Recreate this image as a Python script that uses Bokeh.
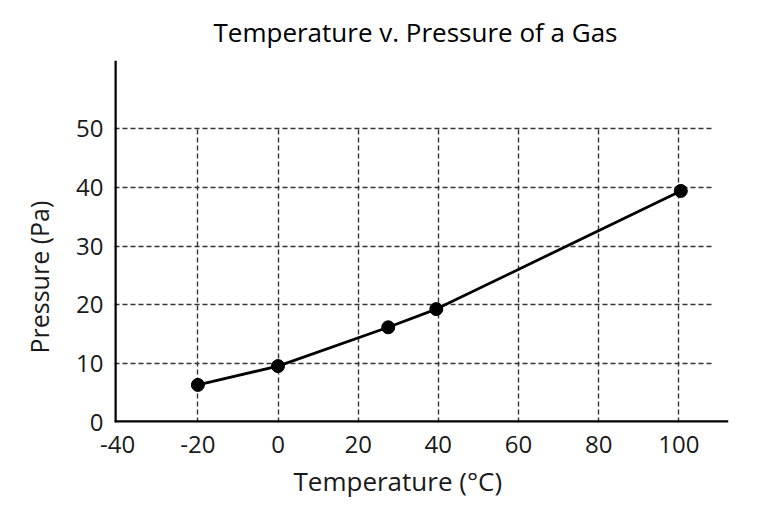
from bokeh.plotting import figure
from bokeh.models import FixedTicker, Span, Range1d, Title
from bokeh.embed import file_html
from bokeh.resources import INLINE

# Data
temperature = [-20, 0, 27.5, 39.5, 100.5]
pressure = [6.4, 9.6, 16.2, 19.3, 39.4]

x_ticks = [-40, -20, 0, 20, 40, 60, 80, 100]
y_ticks = [0, 10, 20, 30, 40, 50]
x_grid_ticks = [-20, 0, 20, 40, 60, 80, 100]
y_grid_ticks = [10, 20, 30, 40, 50]

title_text = "Temperature v. Pressure of a Gas"
x_label = "Temperature (\u00b0C)"
y_label = "Pressure (Pa)"

FONT = "Open Sans"
X_START, X_END = -40.8, 112.4
Y_START, Y_END = 0, 61.6

p = figure(width=750, height=515, output_backend="svg", toolbar_location=None,
           x_range=Range1d(X_START, X_END), y_range=Range1d(Y_START, Y_END),
           min_border_left=114, min_border_right=22, min_border_top=60,
           min_border_bottom=93)
p.outline_line_color = None
p.background_fill_color = "white"
p.border_fill_color = "white"

p.title.text = title_text
p.title.text_font = FONT
p.title.text_font_size = "26px"
p.title.text_font_style = "normal"
p.title.text_color = "black"
p.title.align = "left"
p.title.offset = 99
p.title.standoff = 22

for ax, ticks in ((p.xaxis[0], x_ticks), (p.yaxis[0], y_ticks)):
    ax.ticker = FixedTicker(ticks=ticks)
    ax.major_label_overrides = {t: str(t) for t in ticks}
    ax.axis_line_color = None
    ax.major_tick_line_color = None
    ax.minor_tick_line_color = None
    ax.major_tick_out = 0
    ax.major_tick_in = 0
    ax.minor_tick_out = 0
    ax.major_label_text_font = FONT
    ax.major_label_text_font_size = "24px"
    ax.major_label_text_color = "#1a1a1a"

p.xaxis[0].major_label_standoff = 13
p.yaxis[0].major_label_standoff = 11

# axis titles, placed over the labelled tick span as in the reference
xt = Title(text=x_label, align="left", offset=179, standoff=10,
           text_font=FONT, text_font_size="26px", text_font_style="normal",
           text_color="#1a1a1a")
yt = Title(text=y_label, align="left", offset=69, standoff=35,
           text_font=FONT, text_font_size="25px", text_font_style="normal",
           text_color="#1a1a1a")
p.add_layout(xt, "below")
p.add_layout(yt, "left")

p.xgrid.ticker = FixedTicker(ticks=x_grid_ticks)
p.ygrid.ticker = FixedTicker(ticks=y_grid_ticks)
for g in (p.xgrid[0], p.ygrid[0]):
    g.grid_line_color = "#333333"
    g.grid_line_width = 1.4
    g.grid_line_dash = "5 3"
try:
    p.xgrid[0].cross_bounds = (0, 50)
    p.ygrid[0].cross_bounds = (X_START, 108.6)
except Exception:
    pass

# axis lines across the full frame
p.add_layout(Span(location=X_START, dimension="height", line_color="black", line_width=4.5))
p.add_layout(Span(location=Y_START, dimension="width", line_color="black", line_width=4.5))

p.line(temperature, pressure, line_color="black", line_width=2.8)
p.scatter(temperature, pressure, size=13, fill_color="black", line_color="black")

open("out.html", "w").write(file_html(p, INLINE))
